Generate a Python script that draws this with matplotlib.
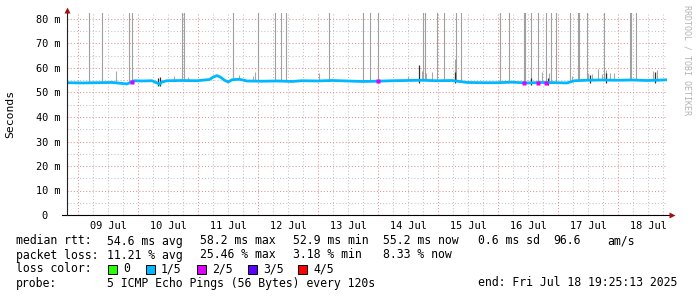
import matplotlib
matplotlib.use("Agg")
import matplotlib.pyplot as plt
import matplotlib.dates as mdates
from matplotlib.ticker import MultipleLocator, FuncFormatter, NullFormatter
from matplotlib.patches import Rectangle
from datetime import datetime, timedelta
import numpy as np

# ---------------- data ----------------
start = datetime(2025, 7, 8, 19, 25, 13)
end = datetime(2025, 7, 18, 19, 25, 13)

# median RTT (ms) at hours since start
med_hours = [0, 6, 12, 18, 22, 24, 27, 30, 34, 36, 37, 38, 40, 46, 52, 57, 58.5, 60,
             61.5, 63, 64.5, 66, 69, 72, 78, 84, 90, 94, 100, 106, 112, 118, 124,
             130, 136, 142, 148, 154, 160, 166, 172, 178, 184, 190, 196, 200, 203,
             208, 214, 220, 226, 232, 236, 240]
med_ms = [54.0, 53.9, 54.0, 54.1, 53.7, 53.5, 54.8, 54.7, 54.8, 53.9, 53.4, 54.3,
          54.8, 54.9, 54.8, 55.3, 56.3, 56.9, 56.2, 55.0, 54.3, 55.2, 55.4, 54.7,
          54.6, 54.7, 54.5, 54.8, 54.7, 54.9, 54.7, 54.5, 54.6, 54.8, 54.9, 55.0,
          54.8, 54.9, 54.1, 54.0, 54.0, 54.2, 53.9, 54.1, 54.0, 53.9, 54.8, 55.0,
          55.1, 55.0, 55.1, 54.9, 55.0, 55.2]

# hours where 2/5 loss was seen
loss2_hours = [26.0, 124.4, 182.8, 188.4, 191.6]

# tall smoke spikes (max ping beyond the graph top)
spike_hours = [8.8, 14.0, 24.8, 26.0, 46.0, 46.8, 66.4, 76.4, 83.2, 85.6, 87.6,
               104.8, 118.4, 121.2, 124.4, 142.4, 143.2, 148.0, 150.8, 155.6,
               157.6, 173.2, 176.8, 182.8, 183.2, 185.6, 188.4, 191.6, 193.6,
               195.6, 201.2, 204.4, 204.8, 208.0, 214.8, 225.2, 225.6, 227.6]
spike_top = 150.0

# light smoke (hours, top ms)
smoke_hours = [19.6, 42.8, 48.4, 66.4, 68.8, 74.4, 75.2, 100.8, 136.4, 142.0,
               143.6, 146.0, 155.2, 190.0, 192.8, 202.0, 208.4, 210.0, 212.4,
               214.0, 215.6, 217.2, 218.8, 234.4, 236.0]
smoke_top = [58.8, 56.7, 56.3, 59.6, 57.0, 56.7, 58.4, 58.0, 56.7, 58.8, 58.0,
             58.4, 63.7, 58.4, 58.1, 56.7, 58.0, 57.6, 59.6, 57.5, 59.0, 58.0,
             58.0, 58.8, 59.0]

# dark smoke (hours, top ms)
dark_hours = [36.4, 37.2, 140.8, 155.2, 185.6, 192.4, 209.2, 215.6, 235.2]
dark_top = [56.0, 56.5, 61.2, 58.4, 55.8, 56.0, 57.0, 58.0, 58.2]

y_max = 82.5
legend_rows = [
    ["median rtt:", "54.6 ms avg", "58.2 ms max", "52.9 ms min", "55.2 ms now",
     "0.6 ms sd", "96.6", "am/s"],
    ["packet loss:", "11.21 % avg", "25.46 % max", "3.18 % min", "8.33 % now"],
]
loss_labels = ["0", "1/5", "2/5", "3/5", "4/5"]
loss_colors = ["#26ff00", "#00b8ff", "#dd00ff", "#5e00ff", "#ff0000"]
probe_text = "5 ICMP Echo Pings (56 Bytes) every 120s"
end_text = "end: Fri Jul 18 19:25:13 2025"

# ---------------- figure ----------------
W, H = 697, 297
fig = plt.figure(figsize=(W / 100, H / 100), dpi=100)
fig.patch.set_facecolor("white")
ax_left, ax_right, ax_bot, ax_top = 67, 667, 215, 215 - y_max * 2.45
ax = fig.add_axes([ax_left / W, (H - ax_bot) / H, (ax_right - ax_left) / W,
                   (ax_bot - ax_top) / H])
ax.set_facecolor("white")

def hrs(h):
    return mdates.date2num([start + timedelta(hours=float(x)) for x in np.atleast_1d(h)])

mono = "DejaVu Sans Mono"

# smoke
base_sp = np.interp(spike_hours, med_hours, med_ms)
ax.vlines(hrs(spike_hours), base_sp, spike_top, color="#a0a0a0", lw=0.8, zorder=2)
base_sm = np.interp(smoke_hours, med_hours, med_ms)
ax.vlines(hrs(smoke_hours), base_sm, smoke_top, color="#a8a8a8", lw=0.8, zorder=2)
base_dk = np.interp(dark_hours, med_hours, med_ms)
ax.vlines(hrs(dark_hours), base_dk - 1.0, dark_top, color="#303030", lw=0.9, zorder=3)

# median
ax.plot(hrs(med_hours), med_ms, color="#00b8ff", lw=2.0,
        zorder=4, solid_capstyle="butt")
l2v = np.interp(loss2_hours, med_hours, med_ms)
ax.plot(hrs(loss2_hours), l2v, ls="none", marker="s", ms=2.6, color="#dd00ff",
        mec="none", zorder=5)

ax.set_xlim(hrs(0)[0], mdates.date2num(end))
ax.set_ylim(0, y_max)

# grid
ax.xaxis.set_major_locator(mdates.DayLocator())
ax.xaxis.set_major_formatter(NullFormatter())
ax.xaxis.set_minor_locator(mdates.HourLocator(byhour=[6, 12, 18]))
ax.xaxis.set_minor_formatter(FuncFormatter(
    lambda v, p: mdates.num2date(v).strftime("%d %b") if mdates.num2date(v).hour == 12 else ""))
ax.yaxis.set_major_locator(MultipleLocator(10))
ax.yaxis.set_minor_locator(MultipleLocator(5))
ax.yaxis.set_major_formatter(FuncFormatter(lambda v, p: "0  " if v == 0 else f"{v:.0f} m"))

ax.grid(which="major", color="#e09090", ls=(0, (1, 2)), lw=0.75)
ax.grid(which="minor", color="#c4c4c4", ls=(0, (1, 2)), lw=0.75)
ax.set_axisbelow(True)

ax.tick_params(which="both", length=0)
ax.tick_params(axis="y", pad=5, labelsize=7.4)
ax.tick_params(axis="x", which="minor", pad=4, labelsize=7.4)
for lab in ax.get_xticklabels(minor=True) + ax.get_yticklabels():
    lab.set_family(mono)

for s in ax.spines.values():
    s.set_visible(False)

# axes lines with arrows
ax.plot([-5 / 600, 1.0 + 5 / 600], [0, 0], transform=ax.transAxes, color="black",
        lw=0.8, clip_on=False, zorder=6)
ax.plot([0, 0], [0, 1 + 2 / 202], transform=ax.transAxes, color="#202020",
        lw=0.8, clip_on=False, zorder=6)
ax.plot([1.0 + 5 / 600], [0], marker=">", ms=4, color="#a01010", transform=ax.transAxes,
        clip_on=False, zorder=7, mec="none")
ax.plot([0], [1 + 3 / 202], marker="^", ms=4, color="#a01010", transform=ax.transAxes,
        clip_on=False, zorder=7, mec="none")

fig.text(10 / W, 1 - 114 / H, "Seconds", rotation=90, va="center", ha="center",
         family=mono, fontsize=8.2)
fig.text(687 / W, 1 - 5 / H, "RRDTOOL / TOBI OETIKER", rotation=270, va="top",
         ha="center", family=mono, fontsize=6.0, color="#b4b4b4")

# legend
fs = 8.3
row1_x = [16, 107, 200, 293, 383, 478, 553, 607]
row2_x = [16, 107, 200, 293, 383]
for txt, x in zip(legend_rows[0], row1_x):
    fig.text(x / W, 1 - 241 / H, txt, va="center", ha="left", family=mono, fontsize=fs)
for txt, x in zip(legend_rows[1], row2_x):
    fig.text(x / W, 1 - 255 / H, txt, va="center", ha="left", family=mono, fontsize=fs)
fig.text(16 / W, 1 - 269 / H, "loss color:", va="center", ha="left", family=mono, fontsize=fs)
sw_x = [108, 146, 197, 248, 298]
for lab, col, x in zip(loss_labels, loss_colors, sw_x):
    fig.add_artist(Rectangle((x / W, 1 - 274 / H), 9 / W, 9 / H, transform=fig.transFigure,
                             facecolor=col, edgecolor="black", lw=0.7))
    fig.text((x + 15) / W, 1 - 269 / H, lab, va="center", ha="left", family=mono, fontsize=fs)
fig.text(16 / W, 1 - 283 / H, "probe:", va="center", ha="left", family=mono, fontsize=fs)
fig.text(107 / W, 1 - 283 / H, probe_text, va="center", ha="left", family=mono, fontsize=fs)
fig.text(478 / W, 1 - 283 / H, end_text, va="center", ha="left", family=mono, fontsize=fs)

fig.savefig("out.png", dpi=100, facecolor="white")
